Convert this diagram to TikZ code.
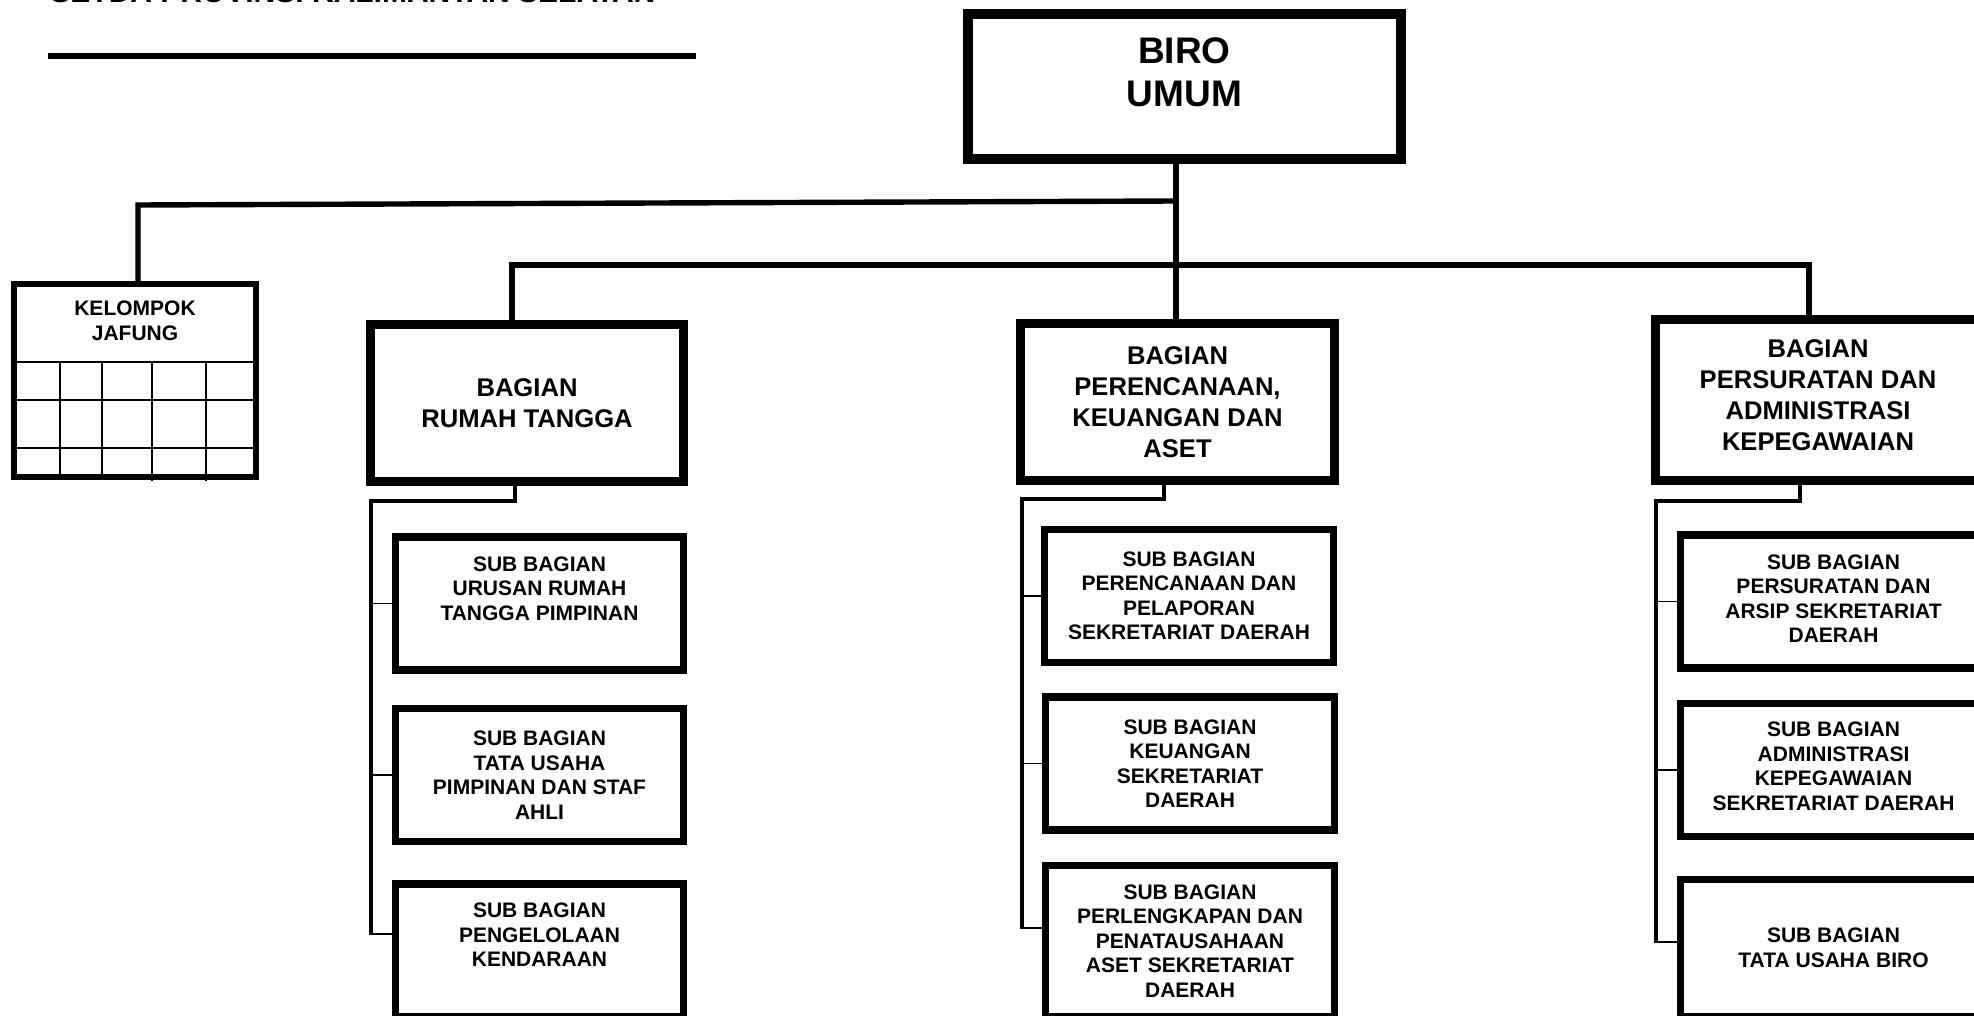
\documentclass[tikz,border=0pt]{standalone}
\usepackage{fontspec}
\setmainfont{Liberation Sans}

\begin{document}
\begin{tikzpicture}[x=0.5pt,y=0.5pt,yscale=-1,
  box/.style={draw,inner sep=0pt,outer sep=0pt,align=center},
  biro/.style={box,line width=5pt,minimum width=216.5pt,minimum height=72.5pt,font=\bfseries\fontsize{18.5}{21.5}\selectfont},
  bagian/.style={box,line width=4.6pt,minimum width=157pt,minimum height=78.5pt,font=\bfseries\fontsize{12.8}{15.5}\selectfont},
  subbag/.style={box,line width=3.9pt,minimum width=144.5pt,minimum height=66.5pt,font=\bfseries\fontsize{10.5}{12.25}\selectfont},
  jafung/.style={box,line width=3.2pt,minimum width=121pt,minimum height=96.5pt,font=\bfseries\fontsize{10.5}{12.5}\selectfont},
  trunk/.style={line width=2.7pt},
  spine/.style={line width=2.4pt},
  tick/.style={line width=0.8pt},
  grid/.style={line width=1pt}]
\useasboundingbox (0,0) rectangle (1974,1016);
\clip (0,0) rectangle (1974,1016);

% Text Node
\node[anchor=base west,inner sep=0pt,font=\bfseries\fontsize{15}{18}\selectfont] (judul) at (50,3) {SETDA PROVINSI KALIMANTAN SELATAN};
\draw[line width=2.6pt] (48,56) -- (696,56);

% Biro
\node[biro,text depth=14pt] (biro) at (1184.5,86.5) {BIRO\\UMUM};

% Kelompok jafung
\node[jafung,text depth=60pt] (jafung) at (135,380.5) {KELOMPOK\\JAFUNG};
\draw[grid] (jafung.west |- 0,362) -- (jafung.east |- 0,362);
\draw[grid] (jafung.west |- 0,400) -- (jafung.east |- 0,400);
\draw[grid] (jafung.west |- 0,448) -- (jafung.east |- 0,448);
\draw[grid] (60,362) -- (jafung.south -| 60,0);
\draw[grid] (102,362) -- (jafung.south -| 102,0);
\draw[grid] (152,362) -- ([yshift=2pt]jafung.south -| 152,0);
\draw[grid] (206,362) -- ([yshift=2pt]jafung.south -| 206,0);

% Bagian
\node[bagian,minimum width=156.5pt] (bagRT) at (527,403) {BAGIAN\\RUMAH TANGGA};
\node[bagian] (bagPK) at (1177.5,402) {BAGIAN\\PERENCANAAN,\\KEUANGAN DAN\\ASET};
\node[bagian,minimum width=162.5pt,minimum height=80.5pt,text depth=5pt] (bagPA) at (1818,400) {BAGIAN\\PERSURATAN DAN\\ADMINISTRASI\\KEPEGAWAIAN};

% Sub bagian rumah tangga
\node[subbag,minimum width=144pt,text depth=15pt] (rt1) at (539.5,603.5) {SUB BAGIAN\\URUSAN RUMAH\\TANGGA PIMPINAN};
\node[subbag,minimum width=144pt] (rt2) at (539.5,775) {SUB BAGIAN\\TATA USAHA\\PIMPINAN DAN STAF\\AHLI};
\node[subbag,minimum width=144pt,text depth=15.5pt] (rt3) at (539.5,950.5) {SUB BAGIAN\\PENGELOLAAN\\KENDARAAN};

% Sub bagian perencanaan
\node[subbag] (pk1) at (1189,596) {SUB BAGIAN\\PERENCANAAN DAN\\PELAPORAN\\SEKRETARIAT DAERAH};
\node[subbag] (pk2) at (1190,763.5) {SUB BAGIAN\\KEUANGAN\\SEKRETARIAT\\DAERAH};
\node[subbag,minimum height=75.5pt] (pk3) at (1190,941) {SUB BAGIAN\\PERLENGKAPAN DAN\\PENATAUSAHAAN\\ASET SEKRETARIAT\\DAERAH};

% Sub bagian persuratan
\node[subbag,minimum width=153pt,text depth=3pt] (pa1) at (1833.5,601.5) {SUB BAGIAN\\PERSURATAN DAN\\ARSIP SEKRETARIAT\\DAERAH};
\node[subbag,minimum width=153pt,text depth=4pt] (pa2) at (1833.5,770) {SUB BAGIAN\\ADMINISTRASI\\KEPEGAWAIAN\\SEKRETARIAT DAERAH};
\node[subbag,minimum width=153pt,minimum height=68.5pt] (pa3) at (1833.5,948) {SUB BAGIAN\\TATA USAHA BIRO};

% garis biro
\coordinate (jknee) at (138,205);
\coordinate (bknee) at (1176,201);
\draw[trunk] (jknee |- jafung.north) -- (jknee) -- (bknee);
\draw[trunk] (biro.south -| bknee) -- (bknee |- bagPK.north);
\coordinate (busL) at (512,265);
\coordinate (busR) at (1809,265);
\draw[trunk] (busL |- bagRT.north) -- (busL) -- (busR) -- (busR |- bagPA.north);

% garis rumah tangga
\coordinate (rtdrop) at (515,501);
\coordinate (rtknee) at (371,501);
\coordinate (rtfoot) at (371,934);
\draw[spine] (rtdrop |- bagRT.south) -- (rtdrop) -- (rtknee) -- (rtfoot);
\draw[tick] (rtknee |- rt1.west) -- (rt1.west);
\draw[tick] (rtknee |- rt2.west) -- (rt2.west);
\draw[tick] ([xshift=-1.2pt]rtfoot) -- (rtfoot -| rt3.west);

% garis perencanaan
\coordinate (pkdrop) at (1164,499);
\coordinate (pkknee) at (1022,499);
\coordinate (pkfoot) at (1022,928);
\draw[spine] (pkdrop |- bagPK.south) -- (pkdrop) -- (pkknee) -- (pkfoot);
\draw[tick] (pkknee |- pk1.west) -- (pk1.west);
\draw[tick] (pkknee |- pk2.west) -- (pk2.west);
\draw[tick] ([xshift=-1.2pt]pkfoot) -- (pkfoot -| pk3.west);

% garis persuratan
\coordinate (padrop) at (1800,501);
\coordinate (paknee) at (1656,501);
\coordinate (pafoot) at (1656,942);
\draw[spine] (padrop |- bagPA.south) -- (padrop) -- (paknee) -- (pafoot);
\draw[tick] (paknee |- pa1.west) -- (pa1.west);
\draw[tick] (paknee |- pa2.west) -- (pa2.west);
\draw[tick] ([xshift=-1.2pt]pafoot) -- (pafoot -| pa3.west);

\end{tikzpicture}
\end{document}
